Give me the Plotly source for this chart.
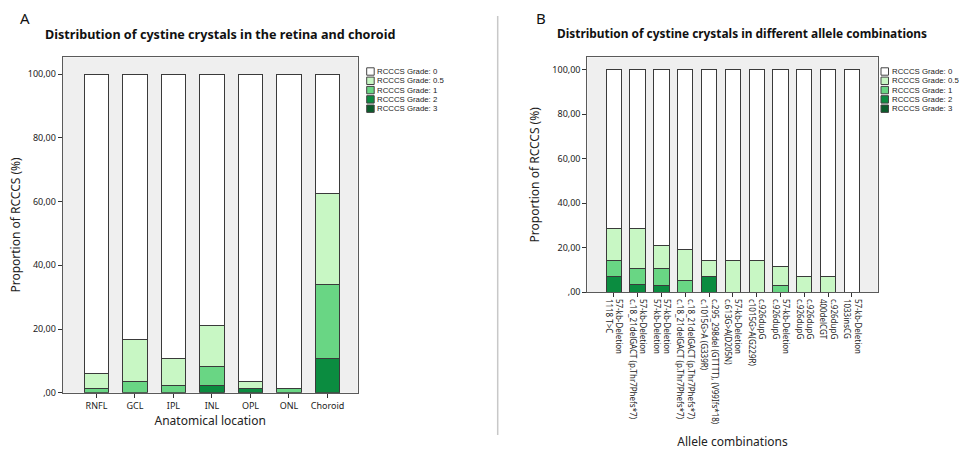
import plotly.graph_objects as go

# ---------------- Data ----------------
locations = ["RNFL", "GCL", "IPL", "INL", "OPL", "ONL", "Choroid"]
a_grade0 = [94.0, 83.4, 89.3, 78.8, 96.5, 98.8, 37.5]
a_grade05 = [4.6, 13.0, 8.4, 12.9, 2.2, 0.0, 28.4]
a_grade1 = [1.4, 3.6, 2.3, 5.9, 0.0, 1.2, 23.4]
a_grade2 = [0.0, 0.0, 0.0, 2.4, 1.3, 0.0, 10.7]
a_grade3 = [0.0, 0.0, 0.0, 0.0, 0.0, 0.0, 0.0]

allele_1 = ["57-kb-Deletion", "57-kb-Deletion", "57-kb-Deletion",
            "c.18_21delGACT (p.Thr7Phefs*7)", "c.295_298del (GTTTT), (V99Ifs*18)",
            "57-kb-Deletion", "c.926dupG", "57-kb-Deletion", "c.926dupG",
            "c.926dupG", "57-kb-Deletion"]
allele_2 = ["1118 T>C", "c.18_21delGACT (p.Thr7Phefs*7)", "57-kb-Deletion",
            "c.18_21delGACT (p.Thr7Phefs*7)", "c.1015G>A (G339R)",
            "c.613G>A(D205N)", "c1015G>A(G229R)", "c.926dupG", "c.926dupG",
            "400delCGT", "1033insCG"]
b_grade0 = [71.5, 71.4, 79.0, 80.8, 85.8, 85.6, 85.6, 88.5, 93.0, 93.0, 100.0]
b_grade05 = [14.3, 17.8, 10.2, 14.1, 6.9, 14.4, 14.4, 8.5, 7.0, 7.0, 0.0]
b_grade1 = [7.2, 7.2, 7.8, 5.1, 0.0, 0.0, 0.0, 3.0, 0.0, 0.0, 0.0]
b_grade2 = [7.0, 3.6, 3.0, 0.0, 7.3, 0.0, 0.0, 0.0, 0.0, 0.0, 0.0]
b_grade3 = [0.0, 0.0, 0.0, 0.0, 0.0, 0.0, 0.0, 0.0, 0.0, 0.0, 0.0]

grade_names = ["RCCCS Grade: 0", "RCCCS Grade: 0.5", "RCCCS Grade: 1",
               "RCCCS Grade: 2", "RCCCS Grade: 3"]
y_tickvals = [0, 20, 40, 60, 80, 100]
y_ticktext = [",00", "20,00", "40,00", "60,00", "80,00", "100,00"]

# ---------------- Styles ----------------
colors = ["#ffffff", "#c8f7c4", "#69d684", "#0b8c40", "#0a5c2b"]
FONT = "Noto Sans"
LEG_FONT = "Liberation Sans"
W, H = 961, 450


def px(x):
    return x / W


def py(y):
    return 1 - y / H


def nz(vals):
    return [v if v > 0 else None for v in vals]


fig = go.Figure()

a_series = [a_grade0, a_grade05, a_grade1, a_grade2, a_grade3]
b_series = [b_grade0, b_grade05, b_grade1, b_grade2, b_grade3]
b_labels = [f"{p}<br>{q}" for p, q in zip(allele_1, allele_2)]

for idx in [4, 3, 2, 1, 0]:
    fig.add_trace(go.Bar(
        x=locations, y=nz(a_series[idx]), name=grade_names[idx],
        marker=dict(color=colors[idx], line=dict(color="#3a3a3a", width=1)),
        width=0.63, xaxis="x", yaxis="y", showlegend=False,
    ))
for idx in [4, 3, 2, 1, 0]:
    fig.add_trace(go.Bar(
        x=b_labels, y=nz(b_series[idx]), name=grade_names[idx],
        marker=dict(color=colors[idx], line=dict(color="#3a3a3a", width=1)),
        width=0.64, xaxis="x2", yaxis="y2", showlegend=False,
    ))

axis_common = dict(showline=True, mirror=True, linecolor="#5a5a5a", linewidth=1,
                   ticks="outside", ticklen=4, tickcolor="#333", tickwidth=1,
                   showgrid=False, zeroline=False, automargin=False,
                   tickfont=dict(family=FONT, size=9, color="#222"))

fig.update_layout(
    width=W, height=H,
    margin=dict(l=0, r=0, t=0, b=0),
    paper_bgcolor="white", plot_bgcolor="#efefef",
    barmode="stack", bargap=0.37,
    font=dict(family=FONT, color="#222"),
    xaxis=dict(domain=[px(62.7), px(357.7)], range=[-0.877, 6.785], anchor="y",
               title=dict(text="Anatomical location", font=dict(size=12, family=FONT),
                          standoff=6),
               **axis_common),
    yaxis=dict(domain=[py(392.7), py(57.3)], range=[0, 105.3], anchor="x",
               tickvals=y_tickvals, ticktext=y_ticktext,
               title=dict(text="Proportion of RCCCS (%)", font=dict(size=12, family=FONT),
                          standoff=4),
               **axis_common),
    xaxis2=dict(domain=[px(587.3), px(877.7)], range=[-1.11, 11.08], anchor="y2",
                tickangle=90,
                title=dict(text="Allele combinations", font=dict(size=12, family=FONT),
                           standoff=14),
                **{**axis_common, "tickfont": dict(family=FONT, size=8, color="#222")}),
    yaxis2=dict(domain=[py(292.3), py(57.3)], range=[0, 105.6], anchor="x2",
                tickvals=y_tickvals, ticktext=y_ticktext,
                title=dict(text="Proportion of RCCCS (%)", font=dict(size=12, family=FONT),
                           standoff=10),
                **axis_common),
)

annotations = [
    dict(text="A", x=px(25), y=py(18), font=dict(size=15, family=FONT, color="#111")),
    dict(text="B", x=px(541), y=py(18), font=dict(size=15, family=FONT, color="#111")),
    dict(text="<b>Distribution of cystine crystals in the retina and choroid</b>",
         x=px(220), y=py(35), font=dict(size=12.6, family=FONT, color="#111")),
    dict(text="<b>Distribution of cystine crystals in different allele combinations</b>",
         x=px(741.7), y=py(33), font=dict(size=11.9, family=FONT, color="#111")),
]
for a in annotations:
    a.update(xref="paper", yref="paper", showarrow=False, xanchor="center", yanchor="middle")

shapes = [dict(type="line", xref="paper", yref="paper", x0=px(497.7), x1=px(497.7),
               y0=py(16), y1=py(435), line=dict(color="#c8c8c8", width=1.5))]

# compact legends drawn beside each panel
for box_x in (366.7, 881.0):
    for i, name in enumerate(grade_names):
        cy = 71.5 + 9.3 * i
        shapes.append(dict(type="rect", xref="paper", yref="paper",
                           x0=px(box_x), x1=px(box_x + 7.5),
                           y0=py(cy + 3.7), y1=py(cy - 3.7),
                           fillcolor=colors[i], line=dict(color="#444", width=1)))
        annotations.append(dict(text=name, xref="paper", yref="paper", showarrow=False,
                                x=px(box_x + 8.5), y=py(cy), xanchor="left", yanchor="middle",
                                font=dict(size=7.8, family=LEG_FONT, color="#222")))

fig.update_layout(annotations=annotations, shapes=shapes)
fig.write_html("out.html", config={"displayModeBar": False},
               post_script="document.body.style.margin='0px';")
